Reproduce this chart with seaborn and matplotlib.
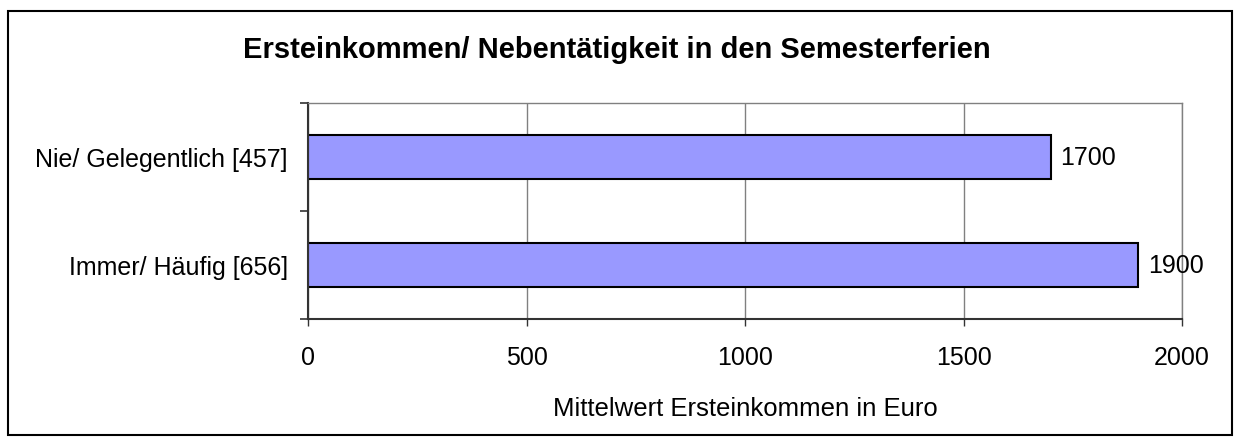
import pandas as pd
import matplotlib.pyplot as plt
import seaborn as sb
from matplotlib.patches import Rectangle

gruppen = ['Nie/ Gelegentlich [457]', 'Immer/ Häufig [656]']
einkommen = [1700, 1900]
xticks = [0, 500, 1000, 1500, 2000]

data = pd.DataFrame({'Gruppe': gruppen, 'Einkommen': einkommen})

sb.set_style('white')
plt.rcParams['font.family'] = ['Liberation Sans', 'DejaVu Sans']
plt.rcParams['text.color'] = 'black'
plt.rcParams['xtick.color'] = 'black'
plt.rcParams['ytick.color'] = 'black'
plt.rcParams['axes.labelcolor'] = 'black'

fig = plt.figure(figsize=(12.34, 4.39), dpi=100)
ax = fig.add_axes([308/1234, 1 - 320/439, (1182-308)/1234, (320-104)/439])

sb.barplot(x='Einkommen', y='Gruppe', data=data, orient='h', color='#9999FF',
           edgecolor='black', linewidth=1.5, width=0.4, saturation=1, ax=ax)

ax.set_xlim(0, 2000)
ax.set_ylim(1.5, -0.5)
ax.set_xticks(xticks)
ax.set_xticklabels([str(t) for t in xticks], fontsize=18)
ax.xaxis.grid(True, color='#808080', linewidth=1)
ax.set_axisbelow(True)

# category boundaries ticks on left
ax.set_yticks([0, 1])
ax.set_yticklabels(gruppen, fontsize=18)
ax.set_yticks([-0.5, 0.5, 1.5], minor=True)
ax.tick_params(axis='y', which='major', length=0, pad=14.5)
ax.tick_params(axis='y', which='minor', length=6, width=1.2, color='#333333', left=True)
ax.tick_params(axis='x', length=5, width=1, color='#333333', bottom=True, pad=13.5)

for s in ['top', 'right']:
    ax.spines[s].set_color('#808080')
    ax.spines[s].set_linewidth(1)
for s in ['left', 'bottom']:
    ax.spines[s].set_color('#333333')
    ax.spines[s].set_linewidth(1.5)

for i, v in enumerate(einkommen):
    ax.text(v + 22, i, str(v), va='center', ha='left', fontsize=18)

ax.set_ylabel('')
ax.set_xlabel('Mittelwert Ersteinkommen in Euro', fontsize=18.5, labelpad=20)

fig.text(0.5, 1 - 50/439, 'Ersteinkommen/ Nebentätigkeit in den Semesterferien',
         ha='center', va='center', fontsize=21, fontweight='bold')

fig.patches.append(Rectangle((8/1234, 1 - 436/439), (1232-8)/1234, (436-12)/439,
                             transform=fig.transFigure, fill=False,
                             edgecolor='black', linewidth=1.5))

plt.savefig('out.png', dpi=100)
